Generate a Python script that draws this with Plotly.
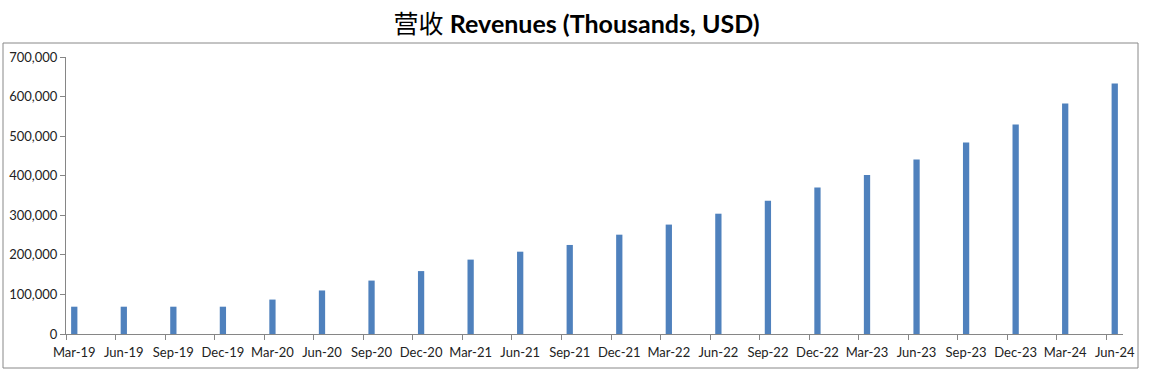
import plotly.graph_objects as go
from datetime import datetime

categories = ["Mar-19", "Jun-19", "Sep-19", "Dec-19", "Mar-20", "Jun-20", "Sep-20", "Dec-20",
              "Mar-21", "Jun-21", "Sep-21", "Dec-21", "Mar-22", "Jun-22", "Sep-22", "Dec-22",
              "Mar-23", "Jun-23", "Sep-23", "Dec-23", "Mar-24", "Jun-24"]
revenues = [69000, 69000, 69000, 69000, 87000, 110000, 135000, 159000,
            188000, 208000, 225000, 251000, 276500, 304000, 337000, 370000,
            402000, 441000, 484000, 529500, 582600, 633000]
y_ticks = [0, 100000, 200000, 300000, 400000, 500000, 600000, 700000]
y_tick_labels = ["0", "100,000", "200,000", "300,000", "400,000", "500,000", "600,000", "700,000"]

# Excel-style date axis with monthly base unit: month index from first label
dates = [datetime.strptime(c, "%b-%y") for c in categories]
d0 = dates[0]
month_idx = [(d.year - d0.year) * 12 + d.month - d0.month for d in dates]
boundaries = [m - 0.5 for m in month_idx]
x_range = [month_idx[0] - 0.5, month_idx[-1] + 0.5]

fig = go.Figure()
fig.add_trace(go.Bar(x=month_idx, y=revenues, width=0.38,
                     marker=dict(color="#4F81BD", line=dict(width=0))))
# invisible trace so the overlay axis with boundary tick marks is drawn
fig.add_trace(go.Scatter(x=[x_range[0]], y=[0], xaxis="x2", mode="markers",
                         marker=dict(opacity=0), hoverinfo="skip", showlegend=False))

L, R, T, B = 66, 30, 57, 43
W, H = 1153, 377
pw, ph = W - L - R, H - T - B

fig.update_layout(
    width=W, height=H,
    margin=dict(l=L, r=R, t=T, b=B),
    paper_bgcolor="white", plot_bgcolor="white",
    showlegend=False,
    title=dict(
        text="<span style='font-family:Noto Sans CJK SC;font-weight:normal'>营收</span> <b>Revenues (Thousands, USD)</b>",
        x=0.5, xanchor="center", y=1 - 24 / H, yanchor="middle",
        font=dict(family="Lato, Noto Sans CJK SC", size=25, color="#000000")),
    xaxis=dict(range=x_range,
               tickmode="array", tickvals=month_idx, ticktext=categories,
               showline=True, linecolor="#868686", linewidth=1,
               ticks="outside", ticklen=6, tickcolor="rgba(0,0,0,0)",
               tickfont=dict(family="Lato", size=13, color="#222222"),
               tickangle=0, showgrid=False, zeroline=False, automargin=False),
    xaxis2=dict(range=x_range, overlaying="x", anchor="y", side="bottom",
                tickmode="array", tickvals=boundaries, showticklabels=False,
                ticks="outside", ticklen=5, tickcolor="#868686",
                showline=False, showgrid=False, zeroline=False, automargin=False),
    yaxis=dict(range=[0, 700000], tickvals=y_ticks, ticktext=y_tick_labels,
               showline=True, linecolor="#868686", linewidth=1,
               ticks="outside", ticklen=5, tickcolor="#868686",
               tickfont=dict(family="Lato", size=13, color="#222222"),
               showgrid=False, zeroline=False, automargin=False),
    shapes=[dict(type="rect", xref="paper", yref="paper",
                 x0=(3 - L) / pw, x1=(1138 - L) / pw,
                 y0=-(368 - (H - B)) / ph, y1=1 + (T - 43) / ph,
                 line=dict(color="#888888", width=1), fillcolor="rgba(0,0,0,0)",
                 layer="below")],
)

fig.write_html("out.html", config={"displayModeBar": False},
               post_script="document.body.style.margin='0px';")
